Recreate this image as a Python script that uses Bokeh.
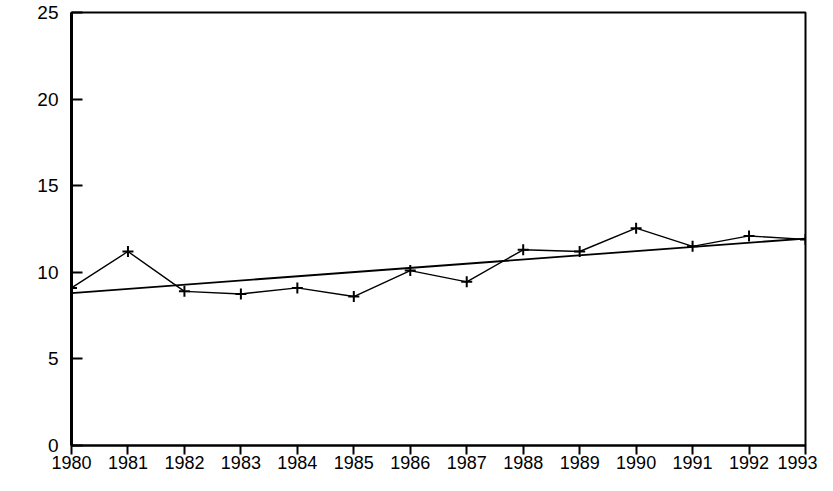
from bokeh.plotting import figure
from bokeh.models import Range1d, FixedTicker
from bokeh.embed import file_html
from bokeh.resources import INLINE

# Data
years = [1980, 1981, 1982, 1983, 1984, 1985, 1986, 1987, 1988, 1989, 1990, 1991, 1992, 1993]
values = [9.1, 11.2, 8.9, 8.75, 9.1, 8.6, 10.1, 9.45, 11.3, 11.2, 12.55, 11.5, 12.1, 11.9]
trend_years = [1980, 1993]
trend_values = [8.8, 11.95]
y_ticks = [0, 5, 10, 15, 20, 25]

FONT = "Liberation Sans"

p = figure(width=817, height=475, output_backend="svg", toolbar_location=None,
           x_range=Range1d(1980, 1993), y_range=Range1d(0, 25),
           min_border_left=71, min_border_right=12, min_border_top=12, min_border_bottom=30)

p.grid.visible = False
p.outline_line_color = "black"
p.outline_line_width = 2
p.outline_line_alpha = 1.0
p.background_fill_color = "white"
p.border_fill_color = "white"

# x axis
p.xaxis.ticker = FixedTicker(ticks=years)
p.xaxis.minor_tick_line_color = None
p.xaxis.major_tick_in = 0
p.xaxis.major_tick_out = 9
p.xaxis.major_tick_line_width = 2
p.xaxis.major_tick_line_color = "black"
p.xaxis.axis_line_width = 2
p.xaxis.axis_line_color = "black"
p.xaxis.major_label_standoff = 1
p.xaxis.major_label_text_font = FONT
p.xaxis.major_label_text_font_size = "18px"
p.xaxis.major_label_text_color = "black"

# y axis
p.yaxis.ticker = FixedTicker(ticks=y_ticks)
p.yaxis.minor_tick_line_color = None
p.yaxis.major_tick_in = 11
p.yaxis.major_tick_out = 0
p.yaxis.major_tick_line_width = 2
p.yaxis.major_tick_line_color = "black"
p.yaxis.axis_line_width = 3
p.yaxis.axis_line_color = "black"
p.yaxis.major_label_standoff = 13
p.yaxis.major_label_text_font = FONT
p.yaxis.major_label_text_font_size = "19px"
p.yaxis.major_label_text_color = "black"

# trend line
p.line(trend_years, trend_values, line_color="black", line_width=1.8)

# data line with cross markers
p.line(years, values, line_color="black", line_width=1.4)
p.scatter(years, values, marker="cross", size=11, line_color="black", line_width=2)

open("out.html", "w").write(file_html(p, INLINE))
